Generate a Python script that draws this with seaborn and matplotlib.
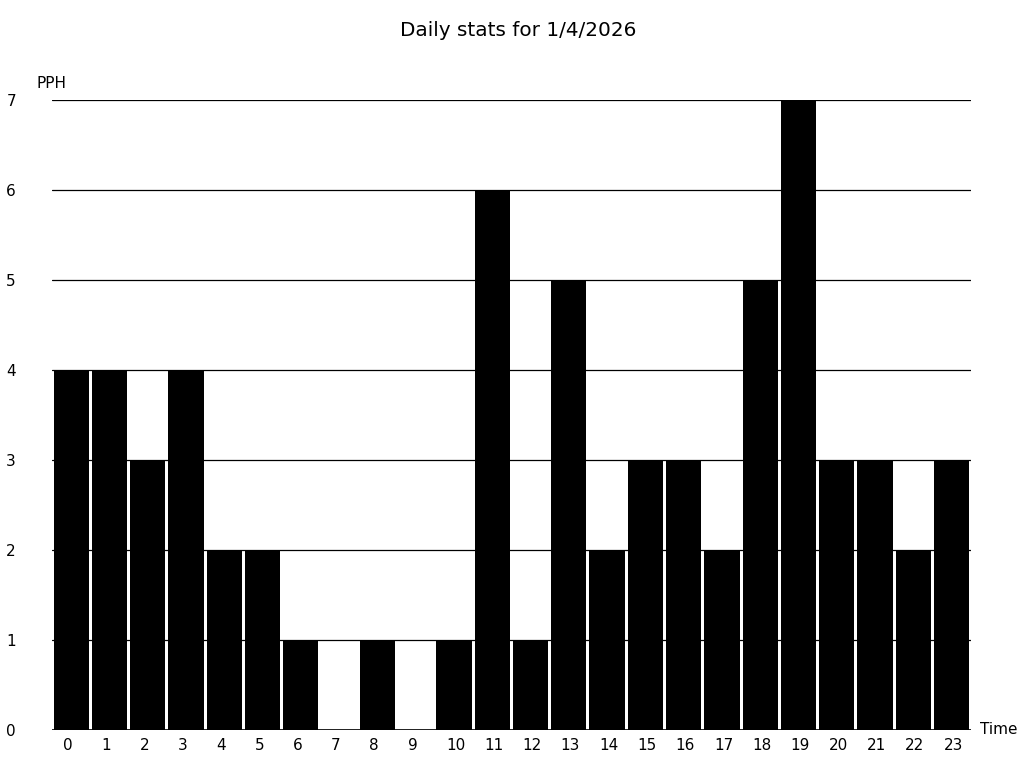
import matplotlib
matplotlib.use("Agg")
import matplotlib.pyplot as plt
import matplotlib.transforms as mtransforms
import seaborn as sns
import pandas as pd

# hourly values
horas = list(range(24))
pph = [4, 4, 3, 4, 2, 2, 1, 0, 1, 0, 1, 6, 1, 5, 2, 3, 3, 2, 5, 7, 3, 3, 2, 3]
titulo = "Daily stats for 1/4/2026"

df = pd.DataFrame({"Time": horas, "PPH": pph})

sns.set_style("white")
plt.rcParams["font.family"] = ["DejaVu Sans"]
plt.rcParams["text.color"] = "black"
plt.rcParams["xtick.color"] = "black"
plt.rcParams["ytick.color"] = "black"

fig = plt.figure(figsize=(10.24, 7.68), dpi=100)
ax = fig.add_axes([0.0508, 0.0495, 0.8972, 0.8203])

sns.barplot(data=df, x="Time", y="PPH", color="black", width=0.92,
            saturation=1, linewidth=0, ax=ax, zorder=3)

ax.set_ylim(0, 7)
ax.set_yticks(range(8))
ax.yaxis.grid(True, color="black", linewidth=0.9, zorder=0)
ax.set_axisbelow(True)
for s in ax.spines.values():
    s.set_visible(False)
ax.axhline(0, color="black", linewidth=1.2, zorder=4)

ax.tick_params(axis="both", length=0, labelsize=11, labelcolor="black")
ax.tick_params(axis="y", pad=26)
ax.tick_params(axis="x", pad=6)
ax.set_xlabel("")
ax.set_ylabel("")

# x labels sit left-aligned a bit left of the bar centre
desloc = mtransforms.ScaledTranslation(-8 / 100, 0, fig.dpi_scale_trans)
for lbl in ax.get_xticklabels():
    lbl.set_horizontalalignment("left")
    lbl.set_transform(lbl.get_transform() + desloc)

fig.text(37 / 1024, 1 - 84 / 768, "PPH", fontsize=11, va="center", ha="left")
fig.text(980 / 1024, 1 - 730 / 768, "Time", fontsize=11, va="center", ha="left")
fig.text(518 / 1024, 1 - 30 / 768, titulo, fontsize=14.4, ha="center", va="center")

plt.savefig("out.png", dpi=100)
plt.close()
